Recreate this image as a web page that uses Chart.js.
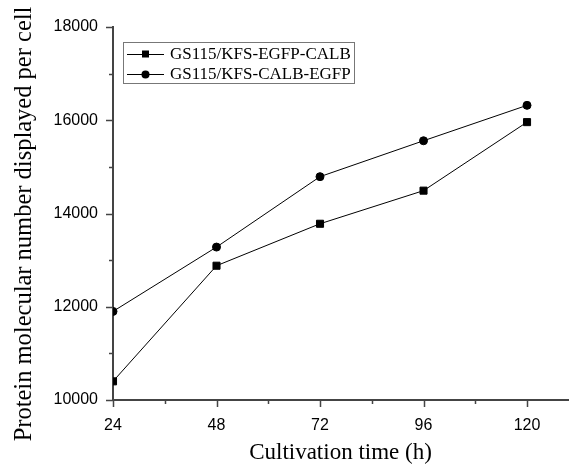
<!DOCTYPE html>
<html>
<head>
<meta charset="utf-8">
<script src="https://cdn.jsdelivr.net/npm/chart.js@4/dist/chart.umd.min.js"></script>
<style>
	html, body { margin: 0; padding: 0; background: #fff; overflow: hidden; }
	canvas { display: block; }
</style>
</head>
<body>
<canvas id="chart" width="574" height="467"></canvas>
<script>
// Values.
var hours = [24, 48, 72, 96, 120]
var egfpCalb = [10400, 12880, 13780, 14490, 15960]
var calbEgfp = [11900, 13280, 14790, 15560, 16320]
var seriesNames = ["GS115/KFS-EGFP-CALB", "GS115/KFS-CALB-EGFP"]
var yTitle = "Protein molecular number displayed per cell"

var INK = "#000"
var AXIS = "#444"
var SERIF = '"Liberation Serif", "Times New Roman", serif'
var SANS = '"Liberation Sans", Arial, sans-serif'

function toPoints(xs, ys) {
	return xs.map(function (x, i) {
		return { x: x, y: ys[i] }
	})
}

// Outward tick marks: long ones at labelled values, short ones between.
var tickMarks = {
	id: "tickMarks",
	afterDraw: function (chart) {
		var ctx = chart.ctx
		var xs = chart.scales.x
		var ys = chart.scales.y
		ctx.save()
		ctx.strokeStyle = AXIS
		ctx.lineWidth = 1.5
		ctx.beginPath()
		for (var v = ys.min; v <= ys.max; v += 1000) {
			var py = Math.round(ys.getPixelForValue(v)) + 0.5
			var len = v % 2000 === 0 ? 7 : 4
			ctx.moveTo(xs.left - len, py)
			ctx.lineTo(xs.left, py)
		}
		for (var h = 24; h <= 120; h += 12) {
			var px = Math.round(xs.getPixelForValue(h)) + 0.5
			var l2 = (h - 24) % 24 === 0 ? 7 : 4
			ctx.moveTo(px, ys.bottom)
			ctx.lineTo(px, ys.bottom + l2)
		}
		ctx.stroke()
		ctx.restore()
	},
}

// The y title sits a little below the plot's centre in the original,
// so it is drawn here rather than by the scale.
var yTitleText = {
	id: "yTitleText",
	afterDraw: function (chart) {
		var ctx = chart.ctx
		ctx.save()
		ctx.translate(25, 224)
		ctx.rotate(-Math.PI / 2)
		ctx.font = "24.5px " + SERIF
		ctx.fillStyle = INK
		ctx.textAlign = "center"
		ctx.textBaseline = "middle"
		ctx.fillText(yTitle, 0, 0)
		ctx.restore()
	},
}

// Boxed legend with a line through each marker, like the original.
var boxLegend = {
	id: "boxLegend",
	afterDraw: function (chart) {
		var ctx = chart.ctx
		var x0 = 123.5, y0 = 42.5, w = 231, h = 41
		ctx.save()
		ctx.strokeStyle = "#777"
		ctx.lineWidth = 1
		ctx.strokeRect(x0, y0, w, h)
		ctx.font = "17px " + SERIF
		ctx.textBaseline = "middle"
		ctx.fillStyle = INK
		chart.data.datasets.forEach(function (ds, i) {
			var cy = 54 + i * 20
			ctx.strokeStyle = INK
			ctx.lineWidth = 1
			ctx.beginPath()
			ctx.moveTo(127, cy + 0.5)
			ctx.lineTo(164, cy + 0.5)
			ctx.stroke()
			ctx.beginPath()
			if (ds.pointStyle === "rect") {
				ctx.rect(142, cy - 3.5, 7, 7)
			} else {
				ctx.arc(145.5, cy + 0.5, 4, 0, Math.PI * 2)
			}
			ctx.fill()
			ctx.fillText(ds.label, 170, cy + 1)
		})
		ctx.restore()
	},
}

new Chart(document.getElementById("chart"), {
	type: "line",
	data: {
		datasets: [
			{
				label: seriesNames[0],
				data: toPoints(hours, egfpCalb),
				borderColor: INK,
				backgroundColor: INK,
				borderWidth: 1,
				pointStyle: "rect",
				pointRadius: 5,
				tension: 0,
			},
			{
				label: seriesNames[1],
				data: toPoints(hours, calbEgfp),
				borderColor: INK,
				backgroundColor: INK,
				borderWidth: 1,
				pointStyle: "circle",
				pointRadius: 4,
				tension: 0,
			},
		],
	},
	options: {
		responsive: false,
		animation: false,
		layout: { padding: { top: 27, right: 2, left: 0, bottom: 0 } },
		plugins: { legend: { display: false }, tooltip: { enabled: false } },
		scales: {
			x: {
				type: "linear",
				min: 24,
				max: 129.5,
				grid: { display: false, drawTicks: false },
				border: { display: true, color: AXIS, width: 2 },
				ticks: {
					stepSize: 12,
					includeBounds: false,
					autoSkip: false,
					maxRotation: 0,
					padding: 16,
					color: INK,
					font: { family: SANS, size: 16 },
					callback: function (v) {
						return (v - 24) % 24 === 0 ? String(v) : ""
					},
				},
				title: {
					display: true,
					text: "Cultivation time (h)",
					color: INK,
					font: { family: SERIF, size: 23 },
					padding: { top: 10, bottom: 0 },
				},
				afterFit: function (s) {
					s.height = 67
					s.paddingLeft = 0
					s.paddingRight = 0
				},
			},
			y: {
				min: 10000,
				max: 18000,
				grid: { display: false, drawTicks: false },
				border: { display: true, color: AXIS, width: 2 },
				ticks: {
					stepSize: 1000,
					autoSkip: false,
					padding: 15,
					color: INK,
					font: { family: SANS, size: 16 },
					callback: function (v) {
						return v % 2000 === 0 ? String(v) : ""
					},
				},
				title: { display: false },
				afterFit: function (s) {
					s.width = 113
				},
			},
		},
	},
	plugins: [tickMarks, yTitleText, boxLegend],
})
</script>
</body>
</html>
